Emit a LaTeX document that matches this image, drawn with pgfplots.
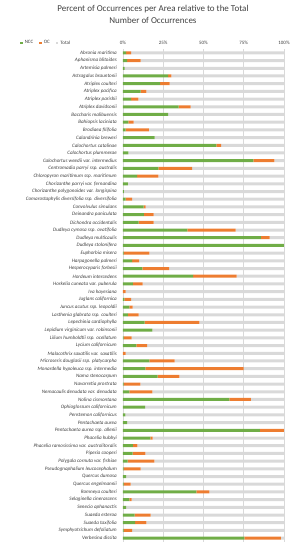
\documentclass[border=0pt]{standalone}
\usepackage{pgfplots}
\usepackage{pgfplotstable}
\pgfplotsset{compat=1.18}
\usepackage{fontspec}
\setmainfont{Carlito}
\definecolor{ncc}{HTML}{70AD47}
\definecolor{oc}{HTML}{ED7D31}
\definecolor{tot}{HTML}{D9D9D9}
\definecolor{txt}{HTML}{595959}
\definecolor{lbl}{HTML}{404040}
\pgfplotstableread{
idx ncc oc tot
1 2 3 95
2 2.5 8.5 89
3 1 0 99
4 28 2 70
5 23 6 71
6 11 3.5 85.5
7 5 4.5 90.5
8 34.5 7.5 58
9 28 0 72
10 3.3 3.3 93.4
11 1.7 14.3 84
12 19.7 0 80.3
13 58 3 39
14 3.3 0 96.7
15 81 13 6
16 22 21 57
17 8.7 13.3 78
18 3 0 97
19 0.6 0 99.4
20 1.7 3.9 94.4
21 12.8 1.2 86
22 13 6 81
23 9.7 9.3 81
24 40 30 30
25 85.7 5.3 9
26 100 0 0
27 0.4 16 83.6
28 5.6 4.4 90
29 12 16.6 71.4
30 43.5 27.1 29.4
31 6.2 6 87.8
32 0 1.7 98.3
33 0.8 4.2 95
34 4 2 94
35 3 6.7 90.3
36 13.5 33.9 52.6
37 18.2 0 81.8
38 0.4 5 94.6
39 8.3 6.7 85
40 0 1.7 98.3
41 16.4 15.6 68
42 13.9 61.1 25
43 21.5 13.5 65
44 0.4 10.4 89.2
45 4 14.2 81.8
46 66 13.5 20.5
47 13.7 0 86.3
48 1.4 0 98.6
49 2.5 0 97.5
50 85 15 0
51 17 1.4 81.6
52 6.2 2.7 91.1
53 6 7.9 86.1
54 2.9 16.6 80.5
55 0.4 10.6 89
56 2 0 98
57 0.4 4.4 95.2
58 45.5 8.1 46.4
59 3.9 1.5 94.6
60 2 0 98
61 7.2 10 82.8
62 7.5 7 85.5
63 0.4 5.2 94.4
64 75.4 22.6 2
}\data
\begin{document}
\begin{tikzpicture}
\path[use as bounding box] (-123pt,-8pt) rectangle (175pt,542pt);
\begin{axis}[
  at={(0,0)}, anchor=south west,
  scale only axis, width=161pt, height=493pt,
  xbar stacked, bar width=3pt,
  xmin=0, xmax=100, ymin=0.5, ymax=64.5, y dir=reverse,
  enlargelimits=false,
  xtick={0,25,50,75,100},
  xticklabel pos=upper,
  xticklabel={\pgfmathprintnumber{\tick}\%},
  /pgf/number format/assume math mode=true,
  xmajorgrids, grid style={tot, line width=0.5pt},
  axis line style={draw=none},
  major tick length=0pt,
  tick style={draw=none},
  xticklabel style={font=\fontsize{5}{6}\selectfont, text=lbl, inner sep=0pt, yshift=4pt},
  ytick={1,...,64},
  yticklabels={{Abronia maritima},{Aphanisma blitoides},{Artemisia palmeri},{Astragalus brauntonii},{Atriplex coulteri},{Atriplex pacifica},{Atriplex parishii},{Atriplex davidsonii},{Baccharis malibuensis},{Bahiopsis laciniata},{Brodiaea filifolia},{Calandrinia breweri},{Calochortus catalinae},{Calochortus plummerae},{Calochortus weedii var. intermedius},{Centromadia parryi ssp. australis},{Chloropyron maritimum ssp. maritimum},{Chorizanthe parryi var. fernandina},{Chorizanthe polygonoides var. longispina},{Comarostaphylis diversifolia ssp. diversifolia},{Convolvulus simulans},{Deinandra paniculata},{Dichondra occidentalis},{Dudleya cymosa ssp. ovatifolia},{Dudleya multicaulis},{Dudleya stolonifera},{Euphorbia misera},{Harpagonella palmeri},{Hesperocyparis forbesii},{Hordeum intercedens},{Horkelia cuneata var. puberula},{Iva hayesiana},{Juglans californica},{Juncus acutus ssp. leopoldii},{Lasthenia glabrata ssp. coulteri},{Lepechinia cardiophylla},{Lepidium virginicum var. robinsonii},{Lilium humboldtii ssp. ocellatum},{Lycium californicum},{Malacothrix saxatilis var. saxatilis},{Microseris douglasii ssp. platycarpha},{Monardella hypoleuca ssp. intermedia},{Nama stenocarpum},{Navarretia prostrata},{Nemacaulis denudata var. denudata},{Nolina cismontana},{Ophioglossum californicum},{Penstemon californicus},{Pentachaeta aurea},{Pentachaeta aurea ssp. allenii},{Phacelia hubbyi},{Phacelia ramosissima var. austrolitoralis},{Piperia cooperi},{Polygala cornuta var. fishiae},{Pseudognaphalium leucocephalum},{Quercus dumosa},{Quercus engelmannii},{Romneya coulteri},{Selaginella cinerascens},{Senecio aphanactis},{Suaeda esteroa},{Suaeda taxifolia},{Symphyotrichum defoliatum},{Verbesina dissita}},
  yticklabel style={font=\fontsize{5.1}{6}\selectfont\itshape, text=lbl, inner sep=0pt, xshift=-6pt},
  title={Percent of Occurrences per Area relative to the Total\\Number of Occurrences},
  title style={at={(0.186,1.057)}, anchor=center, align=center, font=\fontsize{9}{12}\selectfont, text=lbl},
  legend style={at={(-0.64,1.012)}, anchor=west, draw=none, fill=none, legend columns=3,
    font=\fontsize{5}{6}\selectfont, text=lbl, inner sep=0pt,
    /tikz/every even column/.append style={column sep=4pt}},
  legend image code/.code={\path[#1] (0pt,-1.3pt) rectangle (2.6pt,1.3pt);},
]
\addplot[fill=ncc, draw=none] table[x=ncc, y=idx] {\data};
\addplot[fill=oc, draw=none] table[x=oc, y=idx] {\data};
\addplot[fill=tot, draw=none] table[x=tot, y=idx] {\data};
\legend{NCC, OC, Total}
\end{axis}
\end{tikzpicture}
\end{document}
